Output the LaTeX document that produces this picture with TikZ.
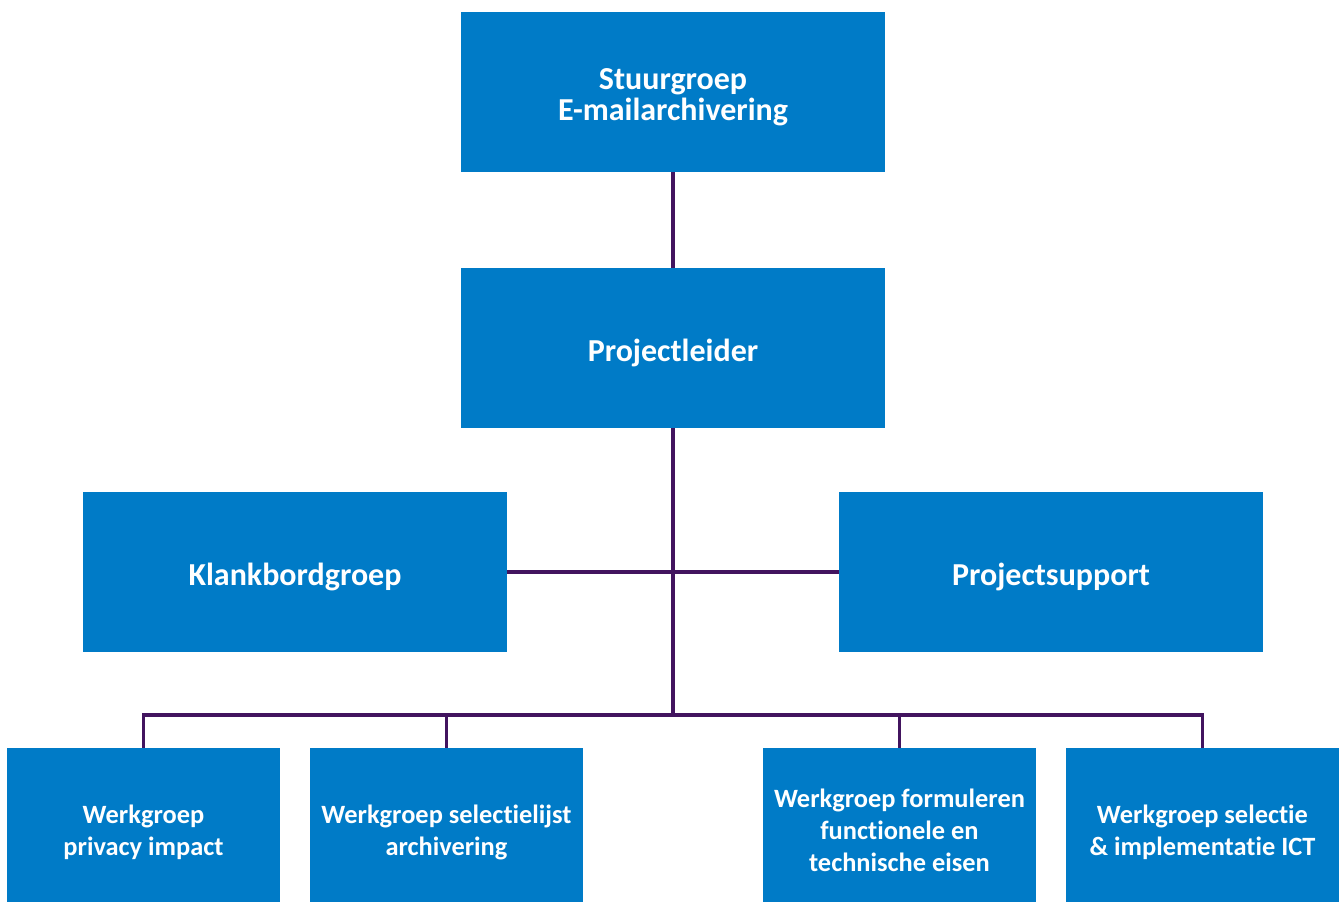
\documentclass[tikz,border=0pt]{standalone}
\usepackage{fontspec}
\setmainfont{Carlito}[Ligatures=NoCommon]
\definecolor{boxblue}{HTML}{007BC7}
\definecolor{linepurple}{HTML}{42145F}
\begin{document}
\begin{tikzpicture}[x=0.75pt,y=-0.75pt,
  bigbox/.style={fill=boxblue,inner sep=0pt,minimum width=318pt,minimum height=120pt},
  smallbox/.style={fill=boxblue,inner sep=0pt,minimum width=204.75pt,minimum height=115.5pt},
  bigtext/.style={text=white,align=center,inner sep=0pt,yshift=-4pt,font=\fontsize{24}{23.5}\selectfont\bfseries},
  smalltext/.style={text=white,align=center,inner sep=0pt,yshift=-5.5pt,font=\fontsize{19.8}{24}\selectfont\bfseries},
  conn/.style={draw=linepurple,line width=2.3pt}]
\useasboundingbox (0,0) rectangle (1341,902);
\node[bigbox,label={[bigtext]center:Stuurgroep\\E-mailarchivering}] (stuur) at (673,92) {};
\node[bigbox,label={[bigtext]center:Projectleider}] (proj) at (673,348) {};
\node[bigbox,label={[bigtext]center:Klankbordgroep}] (klank) at (295,572) {};
\node[bigbox,label={[bigtext]center:Projectsupport}] (supp) at (1051,572) {};
\node[smallbox,label={[smalltext]center:Werkgroep\\privacy impact}] (w1) at (143.5,825) {};
\node[smallbox,label={[smalltext]center:Werkgroep selectielijst\\archivering}] (w2) at (446.5,825) {};
\node[smallbox,label={[smalltext,yshift=1.3pt]center:Werkgroep formuleren\\functionele en\\technische eisen}] (w3) at (899.5,825) {};
\node[smallbox,label={[smalltext]center:Werkgroep selectie\\\&~implementatie ICT}] (w4) at (1202.5,825) {};
\coordinate (bus) at (673,715);
\coordinate (busL) at (143.5,715);
\coordinate (busR) at (1202.5,715);
\draw[conn] (stuur.south) -- (proj.north);
\draw[conn] (proj.south) -- (bus);
\draw[conn] (klank.east) -- (supp.west);
\draw[conn] (w1.north) -- (busL) -- (busR) -- (w4.north);
\draw[conn] (w2.north) -- (w2.north |- bus);
\draw[conn] (w3.north) -- (w3.north |- bus);
\end{tikzpicture}
\end{document}
